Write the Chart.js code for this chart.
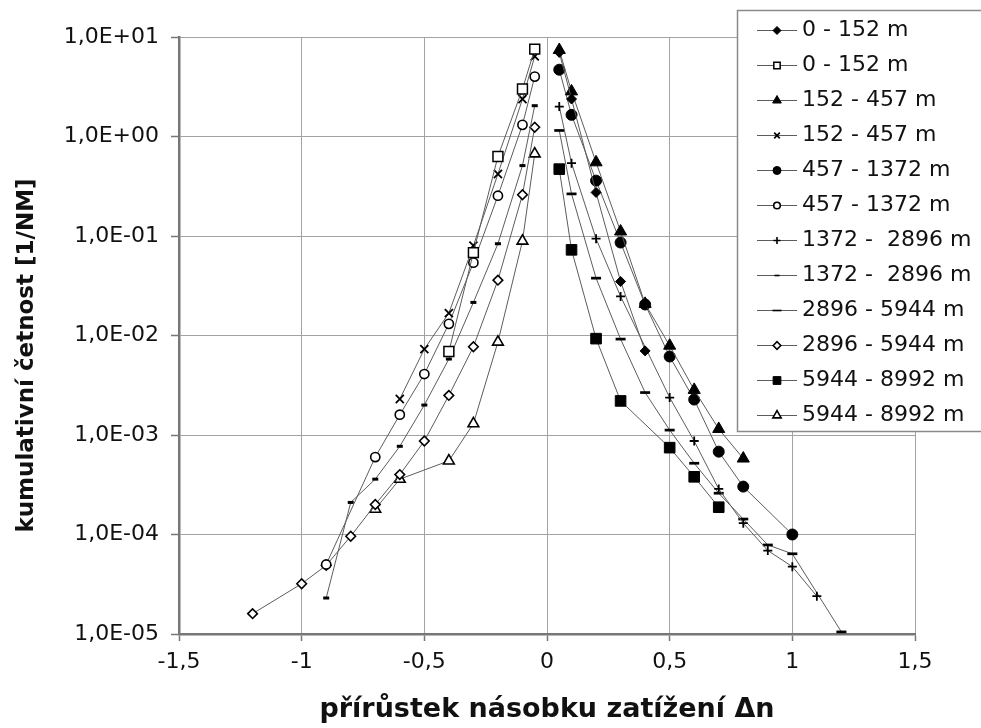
<!DOCTYPE html>
<html><head><meta charset="utf-8">
<script src="https://cdn.jsdelivr.net/npm/chart.js@4/dist/chart.umd.min.js"></script>
<style>html,body{margin:0;padding:0;background:#fff}canvas{display:block}</style>
</head><body>
<canvas id="c" width="981" height="728"></canvas>
<script>
// ---------- DATA ----------
const seriesLabels = ['0 - 152 m','0 - 152 m','152 - 457 m','152 - 457 m','457 - 1372 m','457 - 1372 m',
  '1372 -  2896 m','1372 -  2896 m','2896 - 5944 m','2896 - 5944 m','5944 - 8992 m','5944 - 8992 m'];
const xTickValues = [-1.5,-1,-0.5,0,0.5,1,1.5];
const xTickLabels = ['-1,5','-1','-0,5','0','0,5','1','1,5'];
const yTickValues = [10,1,0.1,0.01,0.001,0.0001,0.00001];
const yTickLabels = ['1,0E+01','1,0E+00','1,0E-01','1,0E-02','1,0E-03','1,0E-04','1,0E-05'];

// 0 - 152 m
const dn_0_152_pos = [0.05,0.1,0.2,0.3,0.4];
const freq_0_152_pos = [7.0,2.38,0.274,0.0349,0.0070];
const dn_0_152_neg = [-0.05,-0.1,-0.2,-0.3,-0.4];
const freq_0_152_neg = [7.56,3.0,0.63,0.068,0.0069];
// 152 - 457 m
const dn_152_457_pos = [0.05,0.1,0.2,0.3,0.4,0.5,0.6,0.7,0.8];
const freq_152_457_pos = [7.4,2.84,0.55,0.111,0.0208,0.0079,0.00284,0.00115,0.00058];
const dn_152_457_neg = [-0.05,-0.1,-0.2,-0.3,-0.4,-0.5,-0.6];
const freq_152_457_neg = [6.4,2.38,0.42,0.080,0.0168,0.0073,0.0023];
// 457 - 1372 m
const dn_457_1372_pos = [0.05,0.1,0.2,0.3,0.4,0.5,0.6,0.7,0.8,1.0];
const freq_457_1372_pos = [4.69,1.65,0.36,0.086,0.0205,0.00615,0.00227,0.00068,0.000303,0.0001];
const dn_457_1372_neg = [-0.05,-0.1,-0.2,-0.3,-0.4,-0.5,-0.6,-0.7,-0.9];
const freq_457_1372_neg = [4.0,1.31,0.254,0.054,0.0131,0.0041,0.0016,0.0006,0.00005];
// 1372 - 2896 m
const dn_1372_2896_pos = [0.05,0.1,0.2,0.3,0.5,0.6,0.7,0.8,0.9,1.0,1.1];
const freq_1372_2896_pos = [2.0,0.54,0.094,0.0247,0.00238,0.00087,0.000287,0.00013,0.000069,0.0000475,0.000024];
const dn_1372_2896_neg = [-0.05,-0.1,-0.2,-0.3,-0.4,-0.5,-0.6,-0.7,-0.8,-0.9];
const freq_1372_2896_neg = [2.04,0.51,0.0836,0.0215,0.0058,0.002,0.00077,0.00036,0.00021,0.000023];
// 2896 - 5944 m
const dn_2896_5944_pos = [0.05,0.1,0.2,0.3,0.4,0.5,0.6,0.7,0.8,0.9,1.0,1.2];
const freq_2896_5944_pos = [1.15,0.265,0.0377,0.0092,0.00267,0.00112,0.00052,0.00026,0.000143,0.0000785,0.000064,0.0000105];
const dn_2896_5944_neg = [-0.05,-0.1,-0.2,-0.3,-0.4,-0.5,-0.6,-0.7,-0.8,-0.9,-1.0,-1.2];
const freq_2896_5944_neg = [1.24,0.26,0.036,0.0077,0.0025,0.00087,0.0004,0.0002,0.000096,0.000049,0.000032,0.000016];
// 5944 - 8992 m
const dn_5944_8992_pos = [0.05,0.1,0.2,0.3,0.5,0.6,0.7];
const freq_5944_8992_pos = [0.47,0.0726,0.0093,0.0022,0.000746,0.00038,0.000188];
const dn_5944_8992_neg = [-0.05,-0.1,-0.2,-0.3,-0.4,-0.6,-0.7];
const freq_5944_8992_neg = [0.67,0.089,0.0086,0.0013,0.00055,0.00036,0.00018];

const seriesX = [dn_0_152_pos,dn_0_152_neg,dn_152_457_pos,dn_152_457_neg,dn_457_1372_pos,dn_457_1372_neg,
  dn_1372_2896_pos,dn_1372_2896_neg,dn_2896_5944_pos,dn_2896_5944_neg,dn_5944_8992_pos,dn_5944_8992_neg];
const seriesY = [freq_0_152_pos,freq_0_152_neg,freq_152_457_pos,freq_152_457_neg,freq_457_1372_pos,freq_457_1372_neg,
  freq_1372_2896_pos,freq_1372_2896_neg,freq_2896_5944_pos,freq_2896_5944_neg,freq_5944_8992_pos,freq_5944_8992_neg];

// ---------- STYLES ----------
const markerStyles = [
  {style:'rectRot',  r:5,   fill:'#000', bw:1,   lr:4},
  {style:'rect',     r:7,   fill:'#fff', bw:1.5, lr:4.5},
  {style:'triangle', r:7,   fill:'#000', bw:1,   lr:5},
  {style:'crossRot', r:5.7, fill:'#000', bw:1.8, lr:4},
  {style:'circle',   r:5.5, fill:'#000', bw:1,   lr:4},
  {style:'circle',   r:4.6, fill:'#fff', bw:1.6, lr:3.3},
  {style:'cross',    r:4.5, fill:'#000', bw:1.8, lr:3.5},
  {style:'line',     r:3,   fill:'#000', bw:3,   lr:2.5},
  {style:'line',     r:5,   fill:'#000', bw:2.7, lr:4.5},
  {style:'rectRot',  r:4.8, fill:'#fff', bw:1.6, lr:3.8},
  {style:'rect',     r:7.5, fill:'#000', bw:1,   lr:5.5},
  {style:'triangle', r:6.2, fill:'#fff', bw:1.6, lr:4.8},
];
const FONT = 'DejaVu Sans';
const lineColor = '#5c5c5c';

function drawMarker(ctx, st, r, x, y, bw, fill) {
  ctx.save();
  ctx.lineWidth = bw; ctx.strokeStyle = '#000'; ctx.fillStyle = fill;
  ctx.beginPath();
  if (st === 'rectRot') { ctx.moveTo(x-r,y); ctx.lineTo(x,y-r); ctx.lineTo(x+r,y); ctx.lineTo(x,y+r); ctx.closePath(); ctx.fill(); ctx.stroke(); }
  else if (st === 'rect') { const s = r*Math.SQRT1_2; ctx.rect(x-s,y-s,2*s,2*s); ctx.fill(); ctx.stroke(); }
  else if (st === 'triangle') { ctx.moveTo(x, y-r); ctx.lineTo(x+r*0.866, y+r*0.5); ctx.lineTo(x-r*0.866, y+r*0.5); ctx.closePath(); ctx.fill(); ctx.stroke(); }
  else if (st === 'circle') { ctx.arc(x,y,r,0,Math.PI*2); ctx.fill(); ctx.stroke(); }
  else if (st === 'cross') { ctx.moveTo(x-r,y); ctx.lineTo(x+r,y); ctx.moveTo(x,y-r); ctx.lineTo(x,y+r); ctx.stroke(); }
  else if (st === 'crossRot') { const d=r*Math.SQRT1_2; ctx.moveTo(x-d,y-d); ctx.lineTo(x+d,y+d); ctx.moveTo(x+d,y-d); ctx.lineTo(x-d,y+d); ctx.stroke(); }
  else if (st === 'line') { ctx.moveTo(x-r,y); ctx.lineTo(x+r,y); ctx.stroke(); }
  ctx.restore();
}
const legendImgs = markerStyles.map(m => {
  const cv = document.createElement('canvas'); cv.width = 40; cv.height = 16;
  const c = cv.getContext('2d');
  c.strokeStyle = lineColor; c.lineWidth = 1; c.beginPath(); c.moveTo(0,8.5); c.lineTo(40,8.5); c.stroke();
  drawMarker(c, m.style, m.lr, 20, 8.5, Math.min(m.bw, 1.6), m.fill);
  return cv;
});

const datasets = seriesLabels.map((lab,i) => ({
  label: lab,
  data: seriesX[i].map((x,j) => ({x: x, y: seriesY[i][j]})),
  showLine: true, fill: false, tension: 0,
  borderColor: lineColor, borderWidth: 1,
  pointStyle: markerStyles[i].style,
  pointRadius: markerStyles[i].r, pointHoverRadius: markerStyles[i].r,
  pointBackgroundColor: markerStyles[i].fill, pointBorderColor: '#000',
  pointBorderWidth: markerStyles[i].bw
}));

const LEG_PAD = 13, LEG_FONT = 22;
const legendBoxPlugin = {
  id: 'legendBox',
  afterInit(chart) {
    const lg = chart.legend;
    const orig = lg.draw.bind(lg);
    lg.draw = function(area) {
      const ctx = chart.ctx;
      const n = chart.data.datasets.length;
      const x0 = lg.left - LEG_PAD, y0 = lg.top + 4;
      const h = n * (LEG_FONT + LEG_PAD) + 1;
      ctx.save();
      ctx.fillStyle = '#fff';
      ctx.fillRect(x0, y0, chart.width - x0 + 10, h);
      ctx.strokeStyle = '#8a8a8a'; ctx.lineWidth = 1.5;
      ctx.strokeRect(x0 + 0.5, y0 + 0.5, chart.width - x0 + 10, h);
      ctx.restore();
      orig(area);
    };
  },
  afterLayout(chart) {
    const lg = chart.legend;
    const h = lg.height;
    lg.left = 750; lg.top = 6; lg.right = chart.width; lg.bottom = 6 + h;
  }
};

function yLabel(v) {
  for (let i = 0; i < yTickValues.length; i++) {
    if (Math.abs(Math.log10(v) - Math.log10(yTickValues[i])) < 1e-6) return yTickLabels[i];
  }
  return '';
}
function xLabel(v) {
  for (let i = 0; i < xTickValues.length; i++) {
    if (Math.abs(v - xTickValues[i]) < 1e-9) return xTickLabels[i];
  }
  return '';
}

new Chart(document.getElementById('c'), {
  type: 'scatter',
  data: { datasets: datasets },
  plugins: [legendBoxPlugin],
  options: {
    responsive: false, animation: false, devicePixelRatio: 1,
    layout: { padding: { left: 0, right: 66, top: 37, bottom: 0 } },
    plugins: {
      tooltip: { enabled: false },
      legend: {
        position: 'chartArea', align: 'start',
        labels: {
          usePointStyle: true, pointStyleWidth: 28, padding: LEG_PAD,
          font: { family: FONT, size: LEG_FONT }, color: '#111',
          generateLabels(chart) {
            return chart.data.datasets.map((ds, i) => ({
              text: ds.label, pointStyle: legendImgs[i], fillStyle: '#000', strokeStyle: '#000',
              lineWidth: 0, hidden: false, datasetIndex: i, fontColor: '#111', rotation: 0
            }));
          }
        }
      }
    },
    scales: {
      x: {
        type: 'linear', min: -1.5, max: 1.5,
        afterBuildTicks: s => { s.ticks = xTickValues.map(v => ({ value: v })); },
        afterFit: s => { s.height = 94; },
        ticks: { callback: v => xLabel(v), font: { family: FONT, size: 22 }, color: '#111', padding: 8, maxRotation: 0, autoSkip: false },
        grid: { color: '#a3a3a3', lineWidth: 1, tickLength: 7, tickColor: '#777', tickWidth: 1.5 },
        border: { color: '#777', width: 2.5 },
        title: { display: true, text: 'přírůstek násobku zatížení Δn', color: '#111',
          font: { family: FONT, size: 27, weight: 'bold' }, padding: { top: 0, bottom: 2 } }
      },
      y: {
        type: 'logarithmic', min: 0.00001, max: 10,
        afterBuildTicks: s => { s.ticks = yTickValues.map(v => ({ value: v })); },
        afterFit: s => { s.width = 179; },
        ticks: { callback: v => yLabel(v), font: { family: FONT, size: 22 }, color: '#111', padding: 12, autoSkip: false },
        grid: { color: '#a3a3a3', lineWidth: 1, tickLength: 8, tickColor: '#777', tickWidth: 1.5 },
        border: { color: '#777', width: 2.5 },
        title: { display: true, text: 'kumulativní četnost [1/NM]\u00a0\u00a0\u00a0\u00a0\u00a0', color: '#111',
          font: { family: FONT, size: 23, weight: 'bold' }, padding: { top: 13, bottom: 0 } }
      }
    }
  }
});
</script>
</body></html>
